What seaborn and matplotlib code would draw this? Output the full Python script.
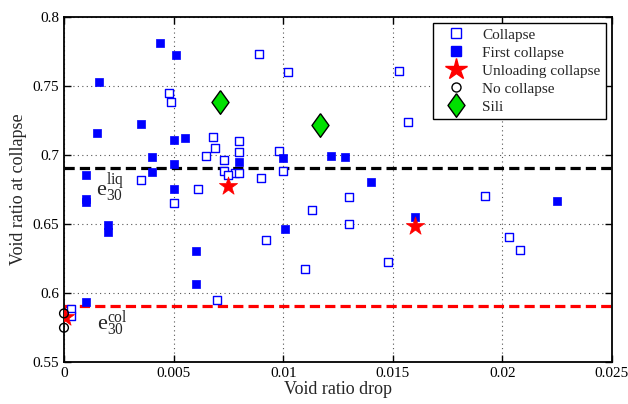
import matplotlib
matplotlib.use("Agg")
import matplotlib.pyplot as plt
import seaborn as sns
import pandas as pd
from matplotlib.lines import Line2D

# ---- data ----
collapse_x = [0.0048, 0.0049, 0.0089, 0.0102, 0.0153, 0.0157, 0.0068, 0.0069, 0.0065,
              0.0080, 0.0080, 0.0073, 0.0098, 0.0100, 0.0073, 0.0078, 0.0080, 0.0075,
              0.0090, 0.0035, 0.0061, 0.0050, 0.0092, 0.0110, 0.0113, 0.0130, 0.0130,
              0.0070, 0.0148, 0.0192, 0.0203, 0.0208, 0.0003, 0.0003]
collapse_y = [0.745, 0.738, 0.773, 0.760, 0.761, 0.7235, 0.713, 0.705, 0.699,
              0.710, 0.702, 0.696, 0.703, 0.688, 0.688, 0.6865, 0.687, 0.685,
              0.683, 0.682, 0.675, 0.665, 0.638, 0.617, 0.660, 0.669, 0.650,
              0.595, 0.622, 0.670, 0.640, 0.631, 0.588, 0.583]

first_x = [0.0044, 0.0051, 0.0016, 0.0035, 0.0015, 0.0050, 0.0055, 0.0040, 0.0050,
           0.0080, 0.0100, 0.0122, 0.0128, 0.0010, 0.0040, 0.0010, 0.0010, 0.0020,
           0.0020, 0.0050, 0.0060, 0.0060, 0.0101, 0.0010, 0.0140, 0.0160, 0.0225]
first_y = [0.781, 0.772, 0.753, 0.722, 0.716, 0.711, 0.712, 0.698, 0.693,
           0.695, 0.6976, 0.699, 0.698, 0.6855, 0.6875, 0.668, 0.666, 0.649,
           0.644, 0.675, 0.630, 0.6063, 0.646, 0.5935, 0.680, 0.6546, 0.6667]

unload_x = [0.0075, 0.0160, 0.00005]
unload_y = [0.677, 0.6483, 0.5825]

nocol_x = [0.0, 0.0]
nocol_y = [0.585, 0.5746]

sili_x = [0.0071, 0.0117]
sili_y = [0.7384, 0.7217]

e_liq = 0.69
e_col = 0.59

x_ticks = [0, 0.005, 0.01, 0.015, 0.02, 0.025]
x_tick_labels = ["0", "0.005", "0.01", "0.015", "0.02", "0.025"]
y_ticks = [0.55, 0.6, 0.65, 0.7, 0.75, 0.8]
y_tick_labels = ["0.55", "0.6", "0.65", "0.7", "0.75", "0.8"]

# ---- style ----
sns.set_style("ticks")
plt.rcParams["font.family"] = ["Liberation Serif", "DejaVu Serif"]
plt.rcParams["mathtext.fontset"] = "custom"
plt.rcParams["mathtext.rm"] = "Liberation Serif"
plt.rcParams["mathtext.it"] = "Liberation Serif"

fig = plt.figure(figsize=(6.28, 4.04), dpi=100)
ax = fig.add_axes([0.1019, 0.1047, 0.8726, 0.854])

blue = "#0000ff"
green = "#00e000"
diamond = [(0, 1), (0.72, 0), (0, -1), (-0.72, 0), (0, 1)]

df_c = pd.DataFrame({"x": collapse_x, "y": collapse_y})
df_f = pd.DataFrame({"x": first_x, "y": first_y})
df_u = pd.DataFrame({"x": unload_x, "y": unload_y})
df_n = pd.DataFrame({"x": nocol_x, "y": nocol_y})
df_s = pd.DataFrame({"x": sili_x, "y": sili_y})

sns.scatterplot(data=df_c, x="x", y="y", ax=ax, marker="s", s=34,
                facecolor="white", edgecolor=blue, linewidth=1.0, zorder=3)
sns.scatterplot(data=df_f, x="x", y="y", ax=ax, marker="s", s=40,
                color=blue, edgecolor=blue, linewidth=0.5, zorder=3)
sns.scatterplot(data=df_u, x="x", y="y", ax=ax, marker="*", s=190,
                color="red", edgecolor="red", linewidth=0.5, zorder=4)
sns.scatterplot(data=df_n, x="x", y="y", ax=ax, marker="o", s=40,
                facecolor="none", edgecolor="black", linewidth=1.0, zorder=5,
                clip_on=False)
sns.scatterplot(data=df_s, x="x", y="y", ax=ax, marker=diamond, s=290,
                color=green, edgecolor="black", linewidth=1.0, zorder=4)

ax.axhline(e_liq, color="black", lw=2.3, dashes=(3.2, 1.6), zorder=2)
ax.axhline(e_col, color="red", lw=2.3, dashes=(3.2, 1.6), zorder=2)

ax.text(0.0021, 0.676, r"$\mathrm{e}_{30}^{\mathrm{liq}}$", fontsize=16,
        ha="center", va="center")
ax.text(0.0022, 0.5775, r"$\mathrm{e}_{30}^{\mathrm{col}}$", fontsize=16,
        ha="center", va="center")

ax.set_xlim(0, 0.025)
ax.set_ylim(0.55, 0.8)
ax.set_xticks(x_ticks)
ax.set_xticklabels(x_tick_labels)
ax.set_yticks(y_ticks)
ax.set_yticklabels(y_tick_labels)
ax.tick_params(direction="in", top=True, right=True, labelsize=11,
               length=5, width=1.0, colors="black")
ax.grid(True, linestyle=(0, (1, 3)), color="#555555", lw=0.8)
for sp in ax.spines.values():
    sp.set_linewidth(1.3)
    sp.set_color("black")
ax.set_xlabel("Void ratio drop", fontsize=13, labelpad=1)
ax.set_ylabel("Void ratio at collapse", fontsize=13, labelpad=4)

handles = [
    Line2D([], [], ls="none", marker="s", ms=6.5, mfc="white", mec=blue, mew=1.0),
    Line2D([], [], ls="none", marker="s", ms=6.5, mfc=blue, mec=blue),
    Line2D([], [], ls="none", marker="*", ms=16, mfc="red", mec="red"),
    Line2D([], [], ls="none", marker="o", ms=6.5, mfc="none", mec="black", mew=1.0),
    Line2D([], [], ls="none", marker=diamond, ms=17, mfc=green, mec="black", mew=1.0),
]
labels = ["Collapse", "First collapse", "Unloading collapse", "No collapse", "Sili"]
leg = ax.legend(handles, labels, loc="upper right", fontsize=11, frameon=True,
                fancybox=False, edgecolor="black", framealpha=1,
                borderpad=0.35, labelspacing=0.28, handletextpad=0.6,
                handlelength=2.3, borderaxespad=0.4)
leg.get_frame().set_linewidth(1.0)

fig.savefig("out.png", dpi=100)
